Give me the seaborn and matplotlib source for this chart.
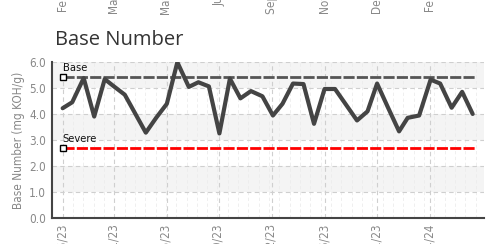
import matplotlib
matplotlib.use("Agg")
import matplotlib.dates as mdates
import matplotlib.pyplot as plt
import pandas as pd
import seaborn as sns
from matplotlib.ticker import AutoMinorLocator, MultipleLocator

# sample dates and base number readings (mg KOH/g)
dates = [
    "2023-02-05", "2023-02-15", "2023-02-27", "2023-03-10", "2023-03-21",
    "2023-03-31", "2023-04-11", "2023-05-03", "2023-05-14", "2023-05-25",
    "2023-06-05", "2023-06-17", "2023-06-27", "2023-07-08", "2023-07-19",
    "2023-07-30", "2023-08-10", "2023-08-21", "2023-09-02", "2023-09-13",
    "2023-09-23", "2023-10-04", "2023-10-15", "2023-10-26", "2023-11-06",
    "2023-11-17", "2023-12-10", "2023-12-21", "2023-12-31", "2024-01-11",
    "2024-01-23", "2024-02-01", "2024-02-13", "2024-02-25", "2024-03-06",
    "2024-03-18", "2024-03-29", "2024-04-09",
]
base_number = [
    4.22, 4.45, 5.38, 3.90, 5.34, 5.05, 4.74, 3.28, 3.86, 4.39,
    5.99, 5.04, 5.22, 5.06, 3.25, 5.36, 4.60, 4.88, 4.68, 3.94,
    4.39, 5.17, 5.15, 3.62, 4.96, 4.96, 3.75, 4.10, 5.17, 4.28,
    3.33, 3.85, 3.94, 5.32, 5.17, 4.24, 4.85, 4.00,
]

# limit lines
limit_names = ["Base", "Severe"]
limit_values = [5.43, 2.70]
limit_colors = ["#555555", "#ff0000"]
limit_start = "2023-02-05"
limit_end = "2024-04-12"

tick_dates = [
    "2023-02-05", "2023-03-31", "2023-05-25", "2023-07-19",
    "2023-09-12", "2023-11-06", "2023-12-31", "2024-02-24",
]
# labels of the chart above, cut off by the top of the picture
upper_labels = ["Feb 05/23", "Mar 31/23", "May 25/23", "Jul 19/23",
                "Sep 12/23", "Nov 06/23", "Dec 31/23", "Feb 24/24"]

df = pd.DataFrame({"date": pd.to_datetime(dates), "bn": base_number})

sns.set_theme(style="white")
narrow = ["DejaVu Sans"]
plt.rcParams["font.family"] = narrow
plt.rcParams["font.stretch"] = "condensed"

fig = plt.figure(figsize=(4.92, 2.44), dpi=100)
ax = fig.add_axes([0.106, 0.107, 0.878, 0.639])

# alternating light bands
for lo in (1, 3, 5):
    ax.axhspan(lo, lo + 1, color="#f4f4f4", lw=0, zorder=0)

sns.lineplot(data=df, x="date", y="bn", ax=ax, color="#444444", lw=3, zorder=4)

x0, x1 = pd.Timestamp(limit_start), pd.Timestamp(limit_end)
for name, val, col in zip(limit_names, limit_values, limit_colors):
    ax.plot([x0, x1], [val, val], color=col, lw=2, dashes=(4, 0.8), zorder=3)
    ax.plot([x0], [val], marker="s", ms=4, mfc="white", mec="black", mew=1,
            zorder=5, clip_on=False)
    ax.annotate(name, (x0, val), xytext=(0, 3), textcoords="offset points",
                fontsize=8, color="#111111", ha="left", va="bottom")

ax.set_ylim(0, 6)
ax.set_xlim(pd.Timestamp("2023-01-25"), pd.Timestamp("2024-04-21"))
ax.yaxis.set_major_locator(MultipleLocator(1))
ax.yaxis.set_major_formatter(matplotlib.ticker.FormatStrFormatter("%.1f"))
ax.set_xticks(pd.to_datetime(tick_dates))
ax.xaxis.set_major_formatter(mdates.DateFormatter("%b %d/%y"))
ax.xaxis.set_minor_locator(AutoMinorLocator(5))

ax.grid(True, which="major", color="#cfcfcf", ls=(0, (4, 3)), lw=0.8)
ax.grid(True, which="minor", axis="x", color="#ececec", ls=(0, (4, 3)), lw=0.6)
ax.set_axisbelow(True)

for side in ("top", "right"):
    ax.spines[side].set_visible(False)
for side in ("left", "bottom"):
    ax.spines[side].set_color("#444444")
    ax.spines[side].set_linewidth(1.5)

ax.tick_params(axis="both", which="major", direction="inout", length=5,
               width=1.2, color="#444444", labelsize=8.5, labelcolor="#888888",
               pad=2)
ax.tick_params(axis="x", which="major", labelrotation=90)
ax.tick_params(axis="x", which="minor", direction="inout", length=3,
               width=0.6, color="#bbbbbb")
ax.set_xlabel("")
ax.set_ylabel("Base Number (mg KOH/g)", fontsize=8.5, color="#888888", labelpad=3)

fig.text(0.112, 0.835, "Base Number", fontsize=14.5, color="#333333",
         family=["Open Sans", "DejaVu Sans"], stretch="normal",
         ha="left", va="center")

# tick labels from the chart above, partly outside the picture
for d, lab in zip(pd.to_datetime(tick_dates), upper_labels):
    xd = ax.transData.transform((mdates.date2num(d), 0))[0]
    xf = fig.transFigure.inverted().transform((xd, 0))[0]
    fig.text(xf, 1.165, lab, rotation=90, fontsize=8.5, color="#888888",
             ha="center", va="top")

fig.savefig("out.png", dpi=100)
